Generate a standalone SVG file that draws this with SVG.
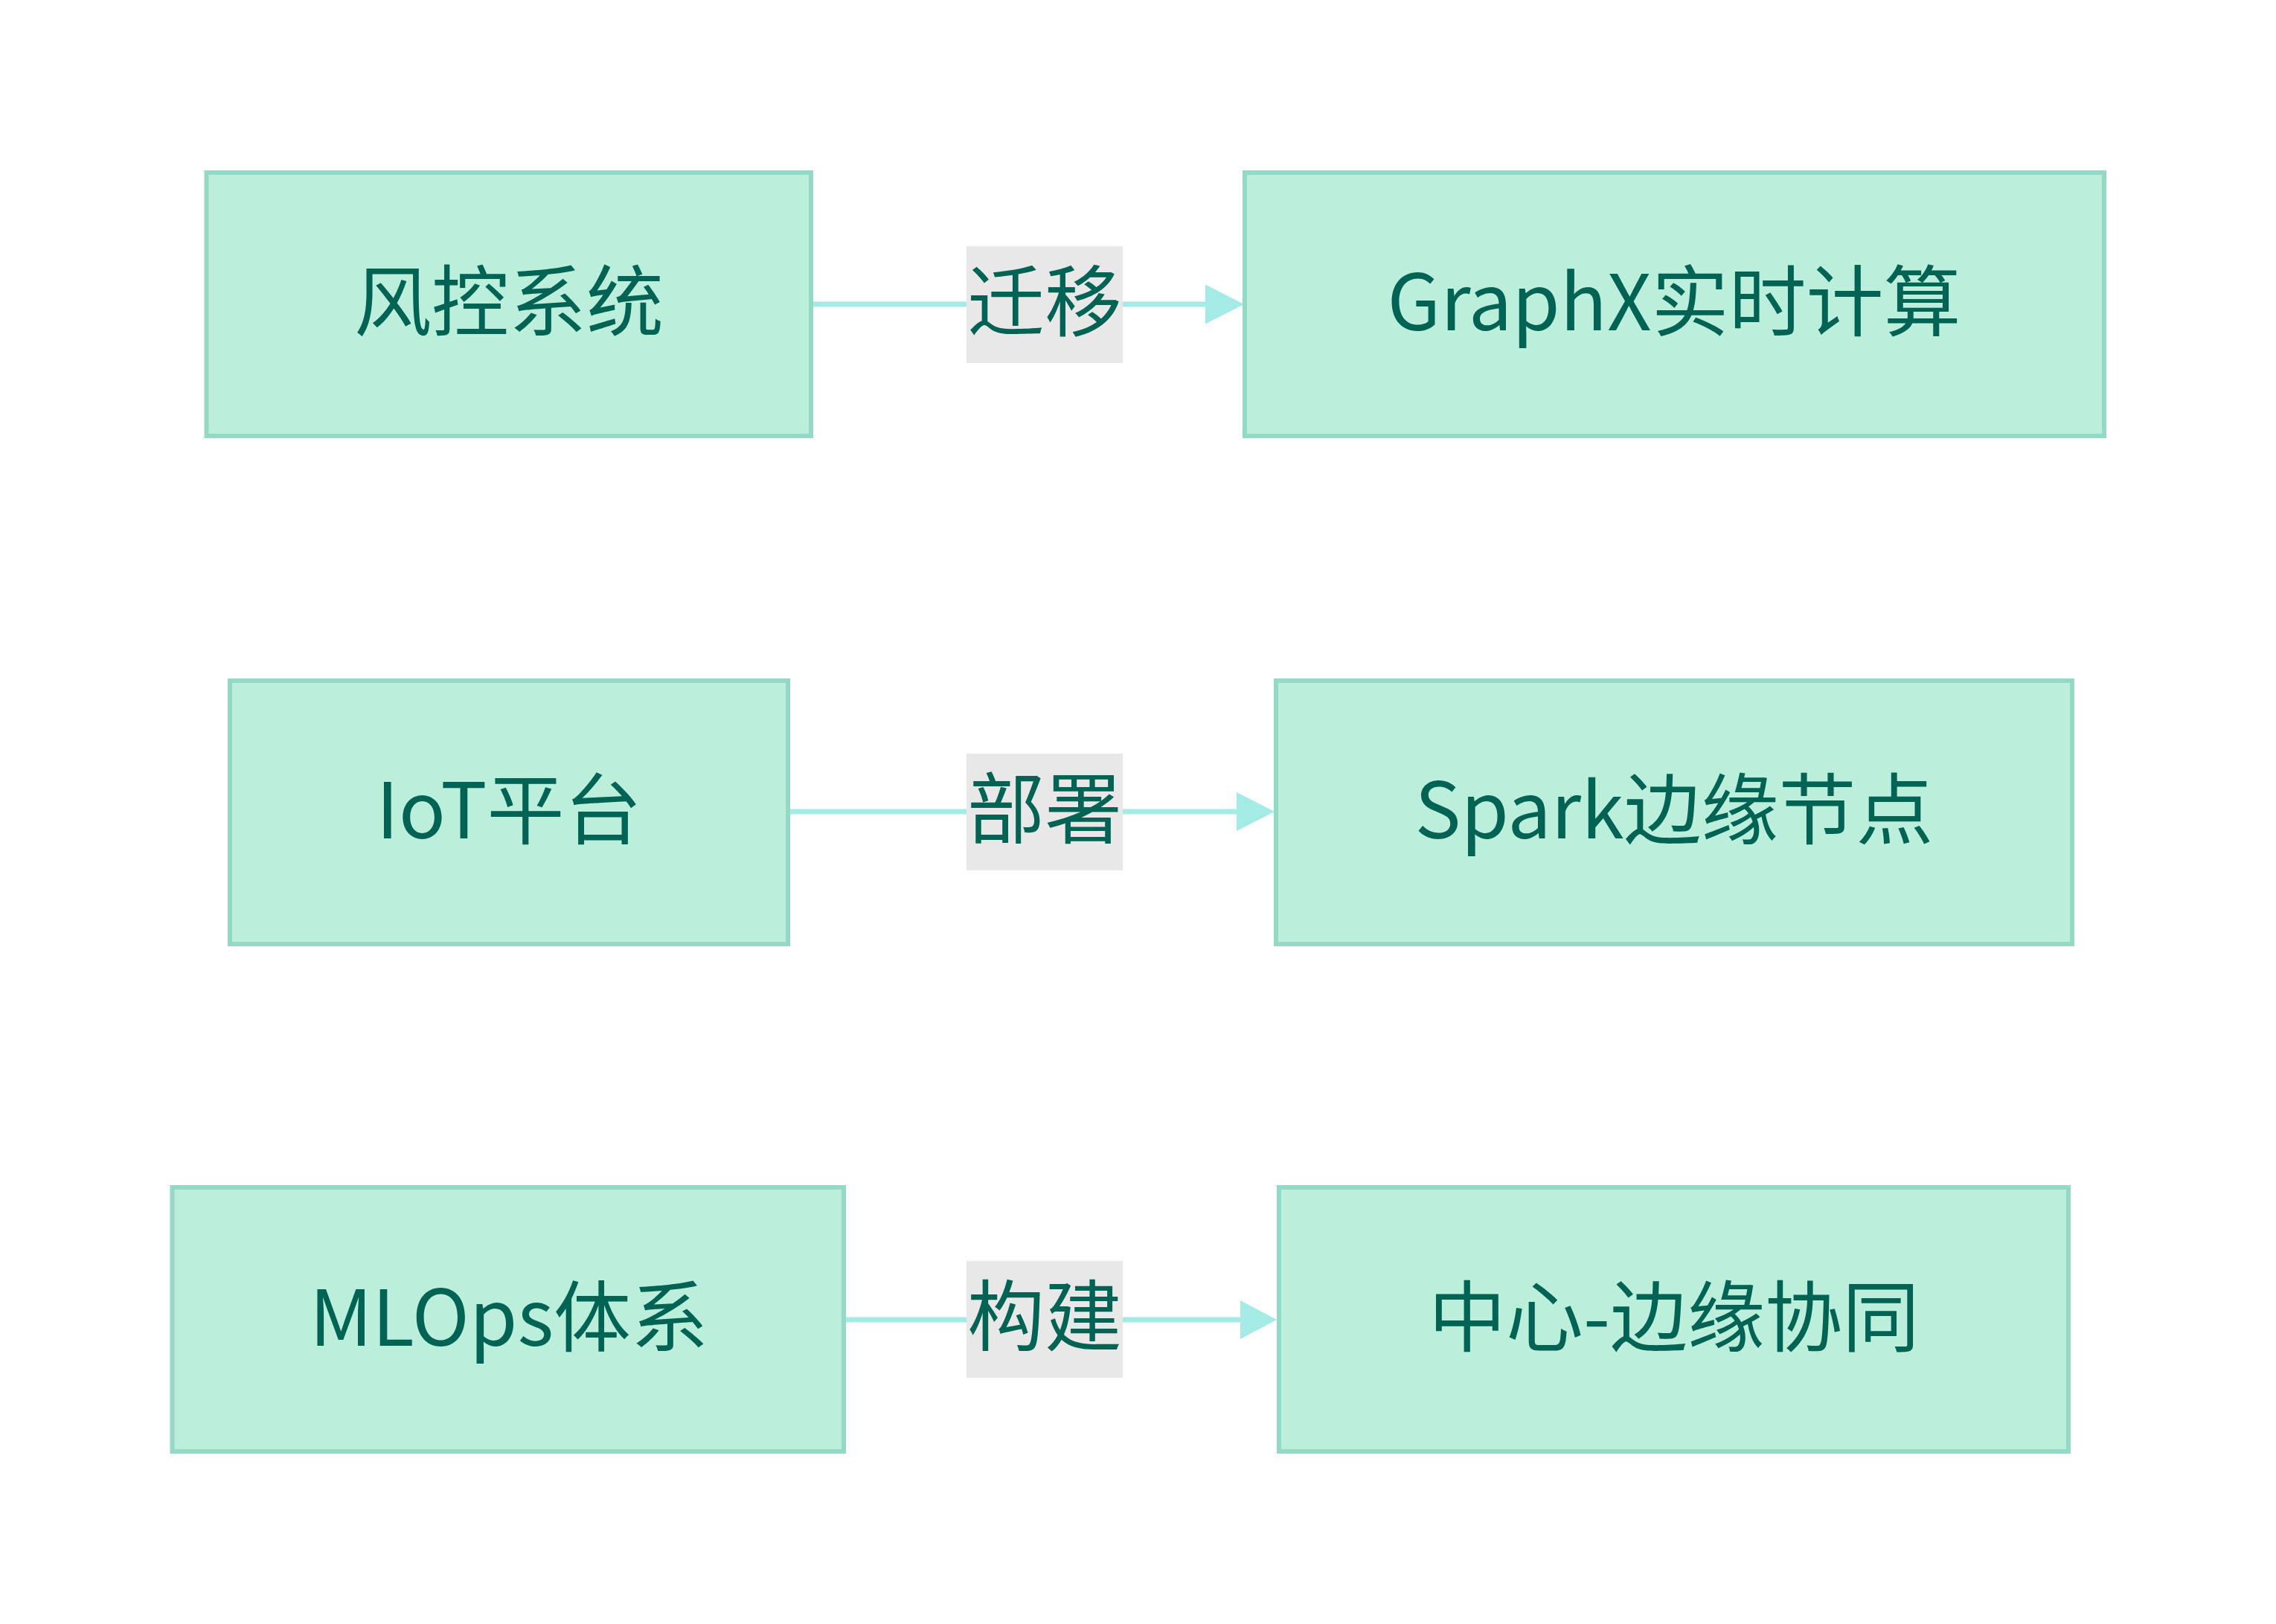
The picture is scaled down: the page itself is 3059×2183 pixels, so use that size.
<svg xmlns="http://www.w3.org/2000/svg" width="3059" height="2183" viewBox="0 0 3059 2183">
<style>
.node rect{fill:#bbeedb;stroke:#93d9c6;stroke-width:6}
.node text,.elabel text{font-family:"Noto Sans CJK SC","Noto Sans",sans-serif;font-size:104px;fill:#006354;text-anchor:middle}
.edge{stroke:#a4ebe5;stroke-width:7;fill:none}
.head{fill:#a4ebe5}
.elabel rect{fill:#e8e8e8}
</style>
<rect width="3059" height="2183" fill="#ffffff"/>
<g id="connectors">
<line class="edge" x1="1093" y1="409" x2="1625" y2="409"/>
<polygon class="head" points="1620,382.5 1672,409 1620,435.5"/>
<line class="edge" x1="1062" y1="1091" x2="1667" y2="1091"/>
<polygon class="head" points="1662,1065 1713,1091 1662,1117"/>
<line class="edge" x1="1137" y1="1774" x2="1672" y2="1774"/>
<polygon class="head" points="1667,1748 1716,1774 1667,1800"/>
<g class="elabel" id="label1">
<rect x="1299" y="331" width="210" height="157"/>
<text x="1404" y="444">迁移</text>
</g>
<g class="elabel" id="label2">
<rect x="1299" y="1013" width="210" height="157"/>
<text x="1404" y="1126">部署</text>
</g>
<g class="elabel" id="label3">
<rect x="1299" y="1695" width="210" height="157"/>
<text x="1404" y="1808">构建</text>
</g>
</g>
<g class="node" id="A">
<rect x="277.5" y="232" width="812.5" height="354"/>
<text x="684" y="444">风控系统</text>
</g>
<g class="node" id="B">
<rect x="1673" y="232" width="1155" height="354"/>
<text x="2250" y="444">GraphX实时计算</text>
</g>
<g class="node" id="C">
<rect x="309" y="915" width="750" height="354"/>
<text x="684" y="1127">IoT平台</text>
</g>
<g class="node" id="D">
<rect x="1715" y="915" width="1070" height="354"/>
<text x="2250" y="1127">Spark边缘节点</text>
</g>
<g class="node" id="E">
<rect x="231.5" y="1596" width="902.5" height="355"/>
<text x="684" y="1809">MLOps体系</text>
</g>
<g class="node" id="F">
<rect x="1719" y="1596" width="1061" height="355"/>
<text x="2250" y="1809">中心-边缘协同</text>
</g>
</svg>
